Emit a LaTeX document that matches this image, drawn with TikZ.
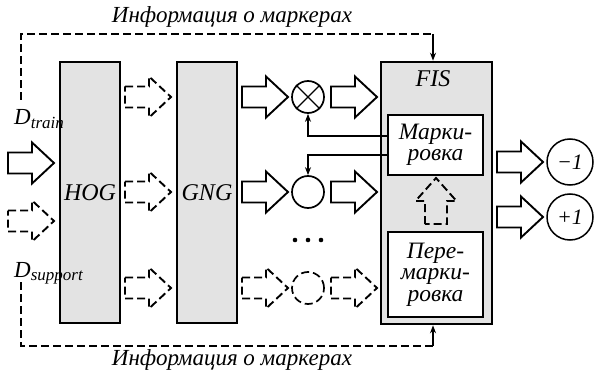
\documentclass[tikz,border=0pt]{standalone}
\usepackage{fontspec}
\setmainfont{Liberation Serif}
\usetikzlibrary{arrows.meta,calc}
\definecolor{boxgray}{HTML}{E3E3E3}
\begin{document}
\begin{tikzpicture}[x=1pt,y=-1pt,
  blk/.style={draw, line width=2.6pt, fill=boxgray, inner sep=0pt},
  inbox/.style={draw, line width=2.6pt, fill=white, inner sep=0pt, align=center,
    font=\fontsize{23.5}{21.5}\selectfont\itshape},
  lbl/.style={font=\fontsize{24}{24}\selectfont\itshape, inner sep=1pt},
  info/.style={font=\fontsize{23}{23}\selectfont\itshape, inner sep=0pt},
  circ/.style={circle, draw, line width=1.7pt, minimum size=32pt, inner sep=0pt},
  ocirc/.style={circle, draw, line width=1.5pt, minimum size=46pt, inner sep=0pt,
    font=\fontsize{22}{22}\selectfont\itshape},
  ba/.style={line width=1.9pt, line join=miter},
  dsh/.style={dash pattern=on 8pt off 4pt},
  fb/.style={line width=1.3pt, -{Stealth[length=8pt,width=6pt]}},
  barrow/.pic={\draw[pic actions] (0,-10.5) -- (24,-10.5) -- (24,-20.5) -- (46,0)
     -- (24,20.5) -- (24,10.5) -- (0,10.5) -- cycle;},
  uarrow/.pic={\draw[pic actions] (-11,0) -- (-11,-23) -- (-20.5,-23) -- (0,-46)
     -- (20.5,-23) -- (11,-23) -- (11,0) -- cycle;}
]
\useasboundingbox (0,0) rectangle (596,374);

% main blocks
\node[blk, minimum width=60pt, minimum height=261pt] (hog) at (90,192.5) {};
\node[lbl] at (hog.center) {HOG};
\node[blk, minimum width=60pt, minimum height=261pt] (gng) at (207,192.5) {};
\node[lbl] at (gng.center) {GNG};
\node[blk, minimum width=111pt, minimum height=262pt] (fis) at (436.5,193) {};
\node[lbl] (fislbl) at (433,79) {FIS};
\node[inbox, minimum width=95pt, minimum height=60pt] (mk) at (435.5,145) {Марки-\\ровка};
\node[inbox, minimum width=95pt, minimum height=85pt] (pmk) at (435.5,274.5) {Пере-\\марки-\\ровка};

% circles
\node[circ] (c1) at (308,97) {};
\draw[line width=1.3pt] (c1.north west) -- (c1.south east) (c1.north east) -- (c1.south west);
\node[circ] (c2) at (308,192) {};
\node[circ, dsh] (c3) at (308,288) {};
\fill (295,240) circle (2.3pt) (308,240) circle (2.3pt) (321,240) circle (2.3pt);

\node[ocirc] (m1) at (570,162) {−1};
\node[ocirc] (p1) at (570,217) {+1};

% block arrows
\pic[ba] at (8,163) {barrow};
\pic[ba,dsh] at (8,221) {barrow};
\pic[ba,dsh] at (125,97) {barrow};
\pic[ba,dsh] at (125,192) {barrow};
\pic[ba,dsh] at (125,288) {barrow};
\pic[ba] at (242,97) {barrow};
\pic[ba] at (242,192) {barrow};
\pic[ba,dsh] at (242,288) {barrow};
\pic[ba] at (331,97) {barrow};
\pic[ba] at (331,192) {barrow};
\pic[ba,dsh] at (331,288) {barrow};
\pic[ba] at (497,162) {barrow};
\pic[ba] at (497,217) {barrow};
\pic[ba,dsh] at (436,224) {uarrow};

% feedback from Markirovka
\draw[fb] ([yshift=9pt]mk.west) -| (c1.south);
\draw[fb] ([yshift=-10pt]mk.west) -| (c2.north);

% marker information lines
\coordinate (tl) at (21,100);
\coordinate (tr) at (433,34);
\coordinate (bl) at (21,282);
\coordinate (br) at (433,346);
\draw[line width=1.3pt, dsh] (tl) |- (tr);
\draw[fb] (tr) -- (tr |- fis.north);
\draw[line width=1.3pt, dsh] (bl) |- (br);
\draw[fb] (br) -- (br |- fis.south);

\node[info] (itop) at (232,17) {Информация о маркерах};
\node[info] (ibot) at (232,360) {Информация о маркерах};

\node[anchor=base west, inner sep=0pt, font=\fontsize{23}{23}\selectfont\itshape] (dtr) at (14,125) {D\textsubscript{\fontsize{17}{17}\selectfont train}};
\node[anchor=base west, inner sep=0pt, font=\fontsize{23}{23}\selectfont\itshape] (dsu) at (14,277) {D\textsubscript{\fontsize{17}{17}\selectfont support}};
\end{tikzpicture}
\end{document}
